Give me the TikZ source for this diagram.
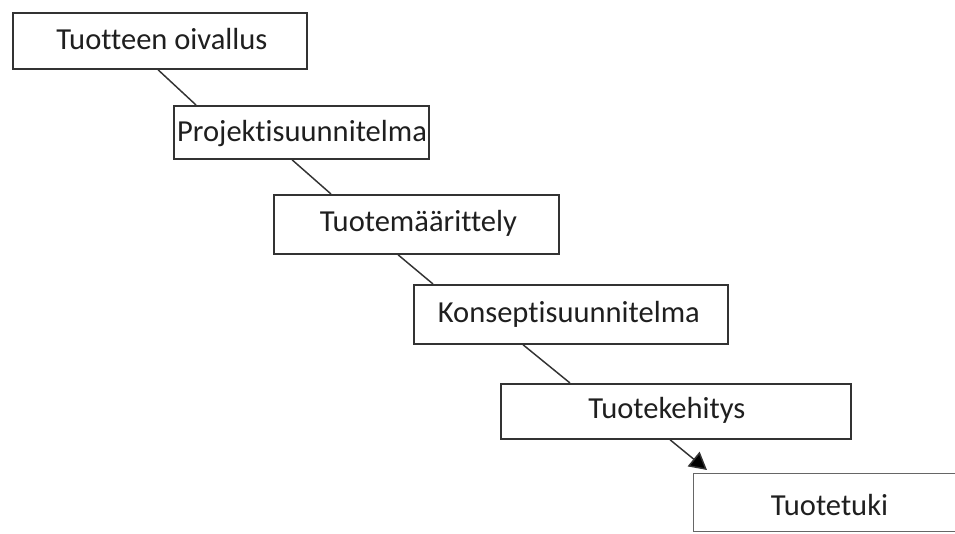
\documentclass[tikz,border=0pt]{standalone}
\usepackage{fontspec}
\setmainfont{Carlito}[Ligatures=NoCommon]
\usetikzlibrary{arrows.meta,calc}
\begin{document}
\begin{tikzpicture}[x=0.75pt,y=-0.75pt,
  box/.style={draw=black!80,line width=1.3pt,fill=white,anchor=north west,inner sep=0pt},
  lbl/.style={font=\fontsize{22.9}{27}\selectfont,text=black!88},
  conn/.style={draw=black!80,line width=1.1pt},
]
\useasboundingbox (0,0) rectangle (955,534);
\clip (0,0) rectangle (955,534);
\node[box,minimum width=220.5pt,minimum height=42pt,
  label={[lbl,xshift=1.5pt,yshift=1.5pt]center:Tuotteen oivallus}] (b1) at (12,12) {};
\node[box,minimum width=191.25pt,minimum height=39.75pt,
  label={[lbl,xshift=0.5pt,yshift=-1pt]center:Projektisuunnitelma}] (b2) at (173,105) {};
\node[box,minimum width=213.75pt,minimum height=44.25pt,
  label={[lbl,xshift=1.5pt,yshift=1pt]center:Tuotemäärittely}] (b3) at (273,194) {};
\node[box,minimum width=235.5pt,minimum height=44.25pt,
  label={[lbl,xshift=-1.5pt,yshift=0pt]center:Konseptisuunnitelma}] (b4) at (413,284) {};
\node[box,minimum width=262.5pt,minimum height=41.25pt,
  label={[lbl,xshift=-6.75pt,yshift=1pt]center:Tuotekehitys}] (b5) at (500,383) {};
\node[box,draw=black!60,line width=1.1pt,minimum width=207.75pt,minimum height=43.5pt,
  label={[lbl,xshift=-2pt,yshift=-2pt]center:Tuotetuki}] (b6) at (693,473) {};
\draw[conn] ($(b1.south west)+(146,0)$) -- ($(b2.north west)+(23,0)$);
\draw[conn] ($(b2.south west)+(119,0)$) -- ($(b3.north west)+(58,0)$);
\draw[conn] ($(b3.south west)+(125,0)$) -- ($(b4.north west)+(20,0)$);
\draw[conn] ($(b4.south west)+(110,0)$) -- ($(b5.north west)+(70,0)$);
\draw[conn,-{Triangle[length=13pt,width=14pt,fill=black]}] ($(b5.south west)+(170,0)$) -- ($(b6.north west)+(14,-3)$);
\end{tikzpicture}
\end{document}
